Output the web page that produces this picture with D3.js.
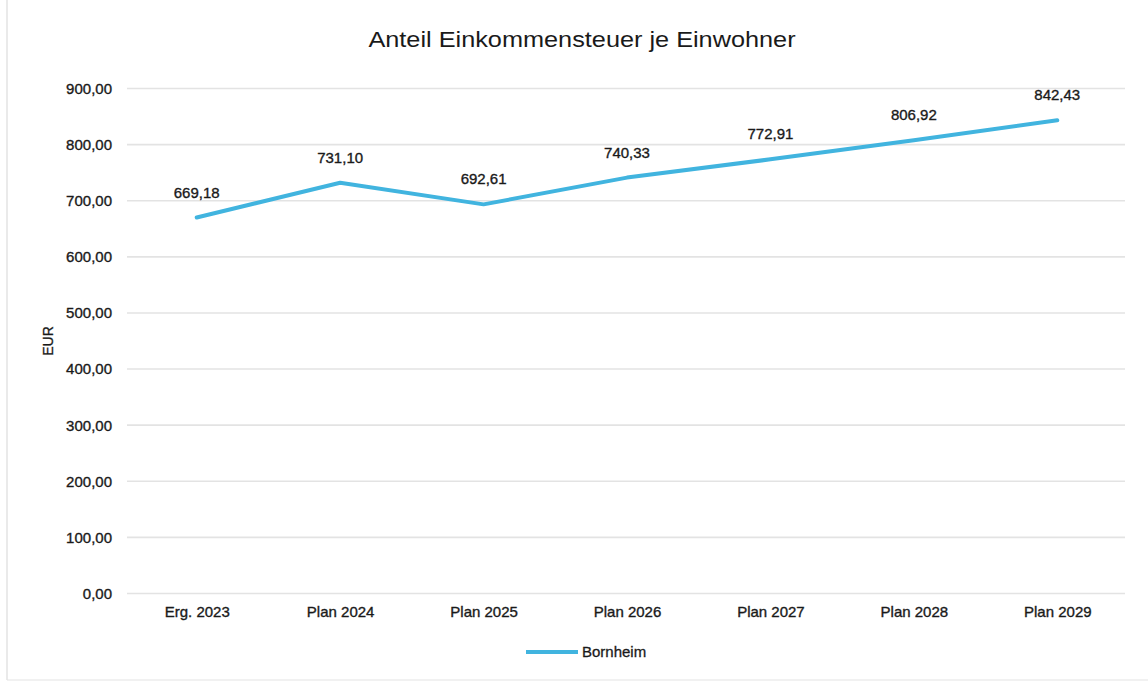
<!DOCTYPE html>
<html>
<head>
<meta charset="utf-8">
<script src="https://cdn.jsdelivr.net/npm/d3@7"></script>
<style>
  html, body { margin: 0; padding: 0; background: #fff; }
  svg { display: block; }
  text { font-family: "Liberation Sans", Arial, Helvetica, sans-serif; fill: #1a1a1a; }
</style>
</head>
<body>
<svg id="chart" width="1148" height="682"></svg>
<script>
// Chart data
const categories = ["Erg. 2023", "Plan 2024", "Plan 2025", "Plan 2026", "Plan 2027", "Plan 2028", "Plan 2029"];
const values = [669.18, 731.10, 692.61, 740.33, 772.91, 806.92, 842.43];
const yTicks = [0, 100, 200, 300, 400, 500, 600, 700, 800, 900];
const seriesName = "Bornheim";
const title = "Anteil Einkommensteuer je Einwohner";
const yAxisTitle = "EUR";

const W = 1148, H = 682;
const margin = { left: 125, right: 19, top: 88, bottom: 89 };
const svg = d3.select("#chart");

const fmt = v => d3.format(",.2f")(v).replace(/,/g, "X").replace(".", ",").replace(/X/g, ".");

const x = d3.scalePoint()
  .domain(categories)
  .range([margin.left, W - margin.right])
  .padding(0.5);

const y = d3.scaleLinear()
  .domain([0, 900])
  .range([H - margin.bottom, margin.top]);

const lineColor = "#41b4df";

// Frame edges
svg.append("line").attr("x1", 7).attr("x2", 7).attr("y1", 0).attr("y2", 680)
  .attr("stroke", "#dcdcdc").attr("stroke-width", 1.2);
svg.append("line").attr("x1", 7).attr("x2", W).attr("y1", 680).attr("y2", 680)
  .attr("stroke", "#e4e4e4").attr("stroke-width", 1.2);

// Title
svg.append("text")
  .attr("transform", `translate(${582},${47}) scale(1.15,1)`)
  .attr("text-anchor", "middle")
  .style("font-size", "22px")
  .text(title);

// Gridlines and y axis
const yAxis = d3.axisLeft(y)
  .tickValues(yTicks)
  .tickSize(-(W - margin.right - margin.left - 6))
  .tickPadding(15)
  .tickFormat(fmt);

const gy = svg.append("g")
  .attr("transform", `translate(${margin.left + 2},0)`)
  .call(yAxis);
gy.select(".domain").remove();
gy.selectAll(".tick line").attr("stroke", "#e3e3e3").attr("stroke-width", 1.6);
gy.selectAll(".tick text")
  .style("font-size", "15px")
  .attr("fill", "#1a1a1a")
  .attr("stroke", "#1a1a1a").attr("stroke-width", 0.35)
  .attr("dy", "0.36em");

// X axis labels
const xAxis = d3.axisBottom(x).tickSize(0).tickPadding(13);
const gx = svg.append("g")
  .attr("transform", `translate(0,${y(0)})`)
  .call(xAxis);
gx.select(".domain").remove();
gx.selectAll(".tick text")
  .style("font-size", "15px")
  .attr("fill", "#1a1a1a")
  .attr("stroke", "#1a1a1a").attr("stroke-width", 0.35);

// Y axis title
svg.append("text")
  .attr("transform", `translate(${53},${341}) rotate(-90)`)
  .attr("text-anchor", "middle")
  .style("font-size", "14px")
  .attr("stroke", "#1a1a1a").attr("stroke-width", 0.3)
  .text(yAxisTitle);

// Series line
const line = d3.line()
  .x((d, i) => x(categories[i]))
  .y(d => y(d));

svg.append("path")
  .datum(values)
  .attr("d", line)
  .attr("fill", "none")
  .attr("stroke", lineColor)
  .attr("stroke-width", 4)
  .attr("stroke-linejoin", "round")
  .attr("stroke-linecap", "round");

// Data labels
svg.append("g").selectAll("text")
  .data(values)
  .join("text")
  .attr("x", (d, i) => x(categories[i]))
  .attr("y", d => y(d) - 20)
  .attr("text-anchor", "middle")
  .style("font-size", "15px")
  .attr("stroke", "#1a1a1a").attr("stroke-width", 0.35)
  .text(d => fmt(d));

// Legend
const legend = svg.append("g").attr("transform", "translate(526,652)");
legend.append("line")
  .attr("x1", 0).attr("x2", 52).attr("y1", 0).attr("y2", 0)
  .attr("stroke", lineColor).attr("stroke-width", 4);
legend.append("text")
  .attr("x", 56).attr("y", 5)
  .style("font-size", "15px")
  .attr("stroke", "#1a1a1a").attr("stroke-width", 0.3)
  .text(seriesName);
</script>
</body>
</html>
